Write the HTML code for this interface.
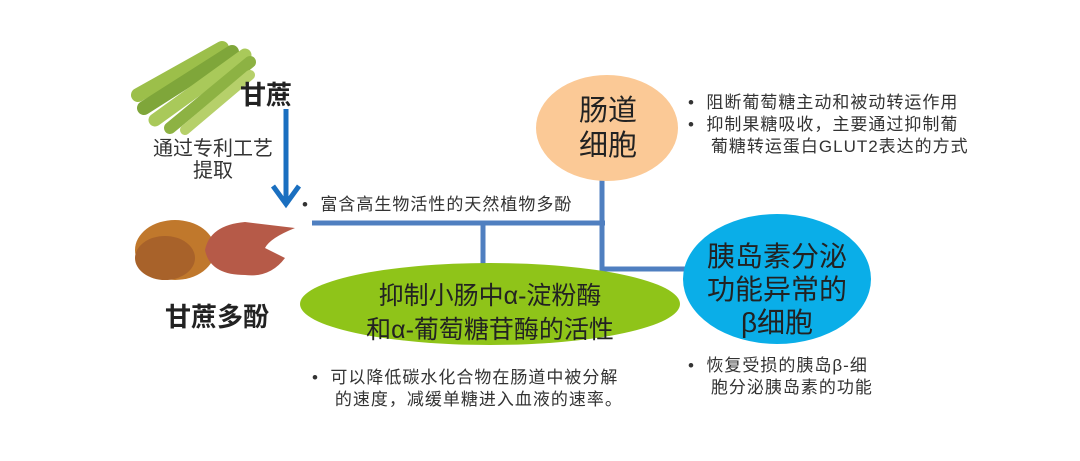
<!DOCTYPE html>
<html><head><meta charset="utf-8"><style>
body{margin:0;width:1080px;height:461px;background:#fff;overflow:hidden;position:relative;font-family:"Liberation Sans","Noto Sans CJK SC",sans-serif;color:#222}
.t{position:absolute;white-space:nowrap;line-height:1}
.b{color:#333;font-size:17px;line-height:22px;letter-spacing:1px}
</style></head><body>
<svg width="1080" height="461" style="position:absolute;left:0;top:0">
 <g>
  <line x1="138" y1="95" x2="222" y2="48" stroke="#9cbf4a" stroke-width="14" stroke-linecap="round"/>
  <line x1="144" y1="108" x2="232" y2="52" stroke="#7fa63a" stroke-width="14" stroke-linecap="round"/>
  <line x1="155" y1="120" x2="245" y2="55" stroke="#a9c95a" stroke-width="13" stroke-linecap="round"/>
  <line x1="170" y1="128" x2="250" y2="62" stroke="#8db243" stroke-width="12" stroke-linecap="round"/>
  <line x1="185" y1="130" x2="250" y2="75" stroke="#b6d06a" stroke-width="10" stroke-linecap="round"/>
 </g>
 <ellipse cx="175" cy="250" rx="40" ry="30" fill="#c0782c"/>
 <ellipse cx="165" cy="258" rx="30" ry="22" fill="#a8622a"/>
 <path d="M205 250 Q210 225 245 222 L295 228 Q270 238 265 248 L285 258 Q270 278 245 275 Q210 275 205 250Z" fill="#b65a48"/>
 <line x1="286" y1="109" x2="286" y2="200" stroke="#1a6fc0" stroke-width="5"/>
 <polyline points="273,186 286,204 299,186" fill="none" stroke="#1a6fc0" stroke-width="5"/>
 <g stroke="#4f7fc0" stroke-width="5" fill="none">
  <line x1="312" y1="223" x2="605" y2="223"/>
  <line x1="483" y1="223" x2="483" y2="265"/>
  <polyline points="602,180 602,269 686,269"/>
 </g>
 <ellipse cx="607" cy="128" rx="71" ry="53" fill="#fbc996"/>
 <ellipse cx="777" cy="279" rx="94" ry="65" fill="#0aaee8"/>
 <ellipse cx="490" cy="304" rx="190" ry="41" fill="#8fc419"/>
</svg>
<div class="t" style="left:240px;top:82px;font-size:26px;font-weight:bold">甘蔗</div>
<div class="t" style="left:148px;top:138px;font-size:20px;text-align:center;width:130px;line-height:22px;color:#333">通过专利工艺<br>提取</div>
<div class="t b" style="left:302px;top:194px">•&nbsp; 富含高生物活性的天然植物多酚</div>
<div class="t" style="left:165px;top:304px;font-size:26px;font-weight:bold">甘蔗多酚</div>
<div class="t" style="left:579px;top:94px;font-size:29px;line-height:35px;text-align:center">肠道<br>细胞</div>
<div class="t b" style="left:688px;top:92px">•&nbsp; 阻断葡萄糖主动和被动转运作用<br>•&nbsp; 抑制果糖吸收，主要通过抑制葡<br>&nbsp;&nbsp;&nbsp; 葡糖转运蛋白GLUT2表达的方式</div>
<div class="t" style="left:683px;top:240px;width:188px;font-size:28px;line-height:33px;text-align:center">胰岛素分泌<br>功能异常的<br>β细胞</div>
<div class="t" style="left:300px;top:279px;width:380px;font-size:25px;line-height:34px;text-align:center">抑制小肠中α-淀粉酶<br>和α-葡萄糖苷酶的活性</div>
<div class="t b" style="left:312px;top:367px">•&nbsp; 可以降低碳水化合物在肠道中被分解<br>&nbsp;&nbsp;&nbsp; 的速度，减缓单糖进入血液的速率。</div>
<div class="t b" style="left:688px;top:355px">•&nbsp; 恢复受损的胰岛β-细<br>&nbsp;&nbsp;&nbsp; 胞分泌胰岛素的功能</div>
</body></html>
